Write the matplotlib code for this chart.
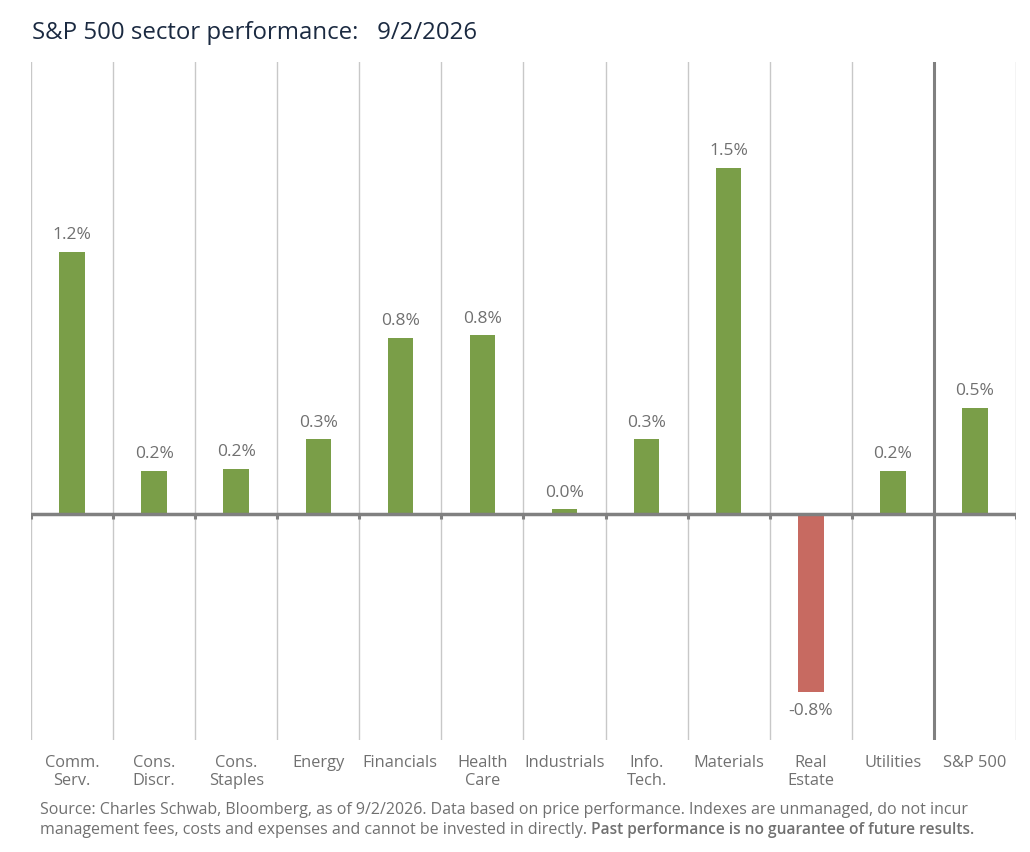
import matplotlib.pyplot as plt
import numpy as np

plt.rcParams['font.family'] = ['Open Sans', 'DejaVu Sans']

sectors = ["Comm.\nServ.", "Cons.\nDiscr.", "Cons.\nStaples", "Energy", "Financials",
           "Health\nCare", "Industrials", "Info.\nTech.", "Materials", "Real\nEstate",
           "Utilities", "S&P 500"]
values = [1.16, 0.19, 0.20, 0.33, 0.78, 0.79, 0.02, 0.33, 1.53, -0.79, 0.19, 0.47]
labels = ["1.2%", "0.2%", "0.2%", "0.3%", "0.8%", "0.8%", "0.0%", "0.3%", "1.5%", "-0.8%", "0.2%", "0.5%"]

green = "#7a9e48"
red = "#c76a61"
gray_txt = "#707070"

fig = plt.figure(figsize=(10.3, 8.53), dpi=100)
ax = fig.add_axes([0.0301, 0.1315, 0.9563, 0.7948])

x = np.arange(len(sectors))
colors = [green if v >= 0 else red for v in values]
ax.bar(x, values, width=0.31, color=colors, zorder=3)

ax.set_xlim(-0.5, len(sectors) - 0.5)
ax.set_ylim(-1.0, 2.0)

# category separators
for b in np.arange(-0.5, len(sectors), 1.0):
    if b == len(sectors) - 1.5:
        ax.axvline(b, color="#808080", lw=2.2, zorder=1)
    else:
        ax.axvline(b, color="#c8c8c8", lw=1, zorder=1)
    ax.vlines(b, -0.025, 0, color="#808080", lw=2.2, zorder=4)

ax.axhline(0, color="#808080", lw=2.5, zorder=4)

for xi, v, lab in zip(x, values, labels):
    if v >= 0:
        ax.annotate(lab, (xi, v), xytext=(0, 7), textcoords="offset points",
                    ha="center", va="bottom", fontsize=12.5, color=gray_txt)
    else:
        ax.annotate(lab, (xi, v), xytext=(0, -7), textcoords="offset points",
                    ha="center", va="top", fontsize=12.5, color=gray_txt)

ax.set_xticks(x)
ax.set_xticklabels(sectors, fontsize=11.8, color=gray_txt, linespacing=1.2, va="top")
ax.tick_params(axis="x", length=0, pad=10)
ax.set_yticks([])
for s in ax.spines.values():
    s.set_visible(False)

fig.text(0.031, 0.961, "S&P 500 sector performance:   9/2/2026", fontsize=17.3,
         color="#1b2a41", va="center", ha="left")

fig.text(0.039, 0.050, "Source: Charles Schwab, Bloomberg, as of 9/2/2026. Data based on price "
         "performance. Indexes are unmanaged, do not incur", fontsize=11.5, color=gray_txt,
         va="center", ha="left")
t = fig.text(0.039, 0.027, "management fees, costs and expenses and cannot be invested in directly. ",
             fontsize=11.5, color=gray_txt, va="center", ha="left")
ax.annotate("Past performance is no guarantee of future results.", xy=(1, 0), xycoords=t,
            va="bottom", ha="left", fontsize=11.2, color=gray_txt, fontweight="semibold",
            annotation_clip=False)

fig.savefig("out.png", dpi=100)
